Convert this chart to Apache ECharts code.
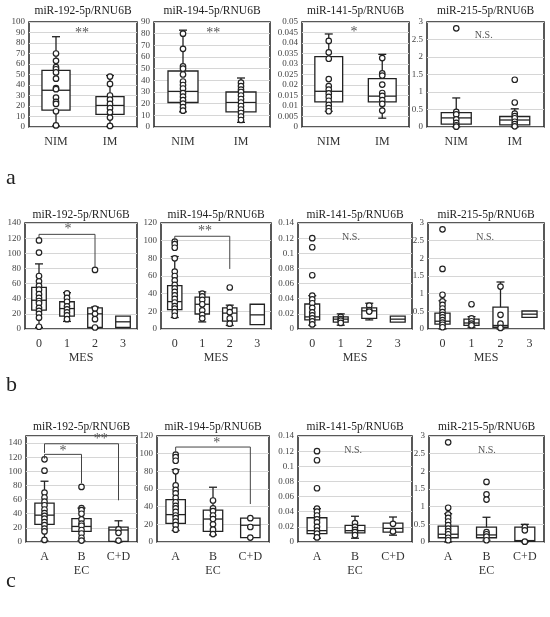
<!DOCTYPE html>
<html>
<head>
<meta charset="utf-8">
<script src="https://cdn.jsdelivr.net/npm/echarts@6/dist/echarts.min.js"></script>
<style>
  html, body { margin: 0; padding: 0; background: #fff; }
  #main { width: 550px; height: 617px; }
</style>
</head>
<body>
<div id="main"></div>
<script>
// categories
const catsIM = ['NIM', 'IM'];
const catsMES = ['0', '1', '2', '3'];
const catsEC = ['A', 'B', 'C+D'];
const markers = ['miR-192-5p/RNU6B', 'miR-194-5p/RNU6B', 'miR-141-5p/RNU6B', 'miR-215-5p/RNU6B'];

// y axis ranges per row: [max, interval]
const axisA = [[100, 10], [90, 10], [0.05, 0.005], [3, 0.5]];
const axisB = [[140, 20], [120, 20], [0.14, 0.02], [3, 0.5]];
const axisC = [[150, 20], [120, 20], [0.14, 0.02], [3, 0.5]];

// box stats per category: [min, q1, median, q3, max]
const boxA192 = [[1, 16, 35, 54, 86], [0.5, 12, 20.5, 29, 49]];
const boxA194 = [[13, 21, 30.5, 48, 83], [4, 13, 21, 30, 42]];
const boxA141 = [[0.0075, 0.012, 0.017, 0.0335, 0.0443], [0.0042, 0.012, 0.0147, 0.023, 0.0346]];
const boxA215 = [[0, 0.08, 0.26, 0.41, 0.83], [0, 0.06, 0.2, 0.3, 0.52]];

const boxB192 = [[2, 25, 38, 55, 86], [10, 17, 27, 36, 48], [1, 2, 20, 28, 29], [2, 2, 9.5, 17, 17]];
const boxB194 = [[13, 22, 31, 49, 82], [8, 17, 28, 36, 42], [4, 9, 18, 24, 27], [5, 5, 16, 28, 28]];
const boxB141 = [[0.005, 0.012, 0.016, 0.033, 0.044], [0.005, 0.009, 0.013, 0.016, 0.02], [0.012, 0.014, 0.024, 0.028, 0.034], [0.009, 0.009, 0.013, 0.017, 0.017]];
const boxB215 = [[0, 0.14, 0.22, 0.45, 0.8], [0.05, 0.1, 0.17, 0.28, 0.35], [0, 0.05, 0.1, 0.62, 1.33], [0.33, 0.33, 0.42, 0.51, 0.51]];

const boxC192 = [[2, 25, 38, 55, 86], [2, 15, 22, 33, 48], [0, 1, 17, 21, 30]];
const boxC194 = [[13, 21, 31, 48, 82], [8, 12, 26, 36, 62], [5, 5, 19, 27, 27]];
const boxC141 = [[0.005, 0.011, 0.015, 0.032, 0.044], [0.005, 0.012, 0.015, 0.022, 0.034], [0.009, 0.013, 0.018, 0.025, 0.033]];
const boxC215 = [[0, 0.12, 0.22, 0.45, 0.8], [0.05, 0.12, 0.2, 0.42, 0.7], [0, 0.02, 0.04, 0.42, 0.5]];

// individual samples per category (outliers included)
const ptsA192 = [[70, 63, 57, 55, 52, 46, 37, 36, 28, 24, 22, 15, 1.5], [48, 41, 30, 26, 22, 18, 14, 9, 1]];
const ptsA194 = [[80, 67, 52, 50, 45, 39, 36, 33, 29, 26, 23, 20, 17, 14], [38, 35, 32, 30, 27, 24, 21, 18, 15, 12, 9, 6]];
const ptsA141 = [[0.041, 0.0355, 0.0325, 0.0228, 0.0195, 0.0178, 0.016, 0.0143, 0.0125, 0.0105, 0.009, 0.0075],
                 [0.0328, 0.0255, 0.0245, 0.0202, 0.0162, 0.0148, 0.0128, 0.011, 0.0078]];
const ptsA215 = [[2.82, 0.43, 0.36, 0.22, 0.12, 0.05, 0.01], [1.35, 0.7, 0.38, 0.31, 0.25, 0.15, 0.08, 0.02]];

const ptsB192 = [[117, 101, 70, 63, 57, 52, 46, 41, 37, 34, 28, 24, 20, 15, 3], [47, 41, 36, 30, 26, 22, 18, 13], [78, 27, 20, 13, 2], []];
const ptsB194 = [[99, 96, 92, 80, 65, 60, 55, 50, 46, 42, 38, 34, 30, 26, 23, 19, 15], [40, 37, 33, 28, 21, 16, 12], [47, 24, 19, 12, 6], []];
const ptsB141 = [[0.12, 0.108, 0.071, 0.044, 0.039, 0.034, 0.028, 0.022, 0.018, 0.014, 0.01, 0.006], [0.016, 0.013, 0.011, 0.008], [0.031, 0.025, 0.023], []];
const ptsB215 = [[2.82, 1.7, 0.97, 0.78, 0.68, 0.58, 0.48, 0.4, 0.33, 0.25, 0.18, 0.12, 0.05], [0.7, 0.3, 0.22, 0.15, 0.1], [1.2, 0.4, 0.15, 0.03], []];

const ptsC192 = [[117, 101, 70, 63, 57, 52, 46, 41, 37, 33, 28, 24, 19, 15, 3], [78, 48, 45, 40, 32, 26, 23, 17, 12, 6, 2], [18, 13, 2]];
const ptsC194 = [[99, 96, 92, 80, 64, 59, 55, 50, 45, 41, 38, 34, 30, 27, 23, 19, 14], [47, 38, 35, 30, 26, 20, 14, 9], [27, 17, 5]];
const ptsC141 = [[0.12, 0.108, 0.071, 0.044, 0.04, 0.035, 0.03, 0.026, 0.02, 0.015, 0.011, 0.006], [0.025, 0.02, 0.016, 0.013, 0.009], [0.024, 0.014]];
const ptsC215 = [[2.82, 0.97, 0.78, 0.68, 0.58, 0.48, 0.38, 0.3, 0.22, 0.12, 0.05], [1.7, 1.35, 1.2, 0.28, 0.22, 0.15, 0.05], [0.42, 0.33, 0.01]];

// significance labels: text, category position, value
const sigA = [['**', 0.48, 89], ['**', 0.52, 80.5], ['*', 0.47, 0.045], ['N.S.', 0.47, 2.62]];
const sigB = [['*', 1.04, 132], ['**', 1.1, 111], ['N.S.', 1.36, 0.1215], ['N.S.', 1.47, 2.6]];
const sigC = [['*', 0.5, 129, '**', 1.52, 145], ['*', 1.1, 112], ['N.S.', 0.95, 0.1215], ['N.S.', 1.01, 2.6]];

// brackets: [fromCat, fromDrop, top, toCat, toDrop]
const brB192 = [[0, 120, 125, 2, 82]];
const brB194 = [[0, 100, 105, 2, 68]];
const brC192 = [[0, 118, 124, 1, 83], [0, 126, 139, 2, 59]];
const brC194 = [[0, 101, 107.5, 2, 43]];

const FONT = 'Liberation Serif';
const INK = '#222';

const panels = [
  { cats: catsIM, ax: axisA[0], box: boxA192, pts: ptsA192, sig: sigA[0], br: [] },
  { cats: catsIM, ax: axisA[1], box: boxA194, pts: ptsA194, sig: sigA[1], br: [] },
  { cats: catsIM, ax: axisA[2], box: boxA141, pts: ptsA141, sig: sigA[2], br: [] },
  { cats: catsIM, ax: axisA[3], box: boxA215, pts: ptsA215, sig: sigA[3], br: [] },
  { cats: catsMES, ax: axisB[0], box: boxB192, pts: ptsB192, sig: sigB[0], br: brB192, name: 'MES' },
  { cats: catsMES, ax: axisB[1], box: boxB194, pts: ptsB194, sig: sigB[1], br: brB194, name: 'MES' },
  { cats: catsMES, ax: axisB[2], box: boxB141, pts: ptsB141, sig: sigB[2], br: [], name: 'MES' },
  { cats: catsMES, ax: axisB[3], box: boxB215, pts: ptsB215, sig: sigB[3], br: [], name: 'MES' },
  { cats: catsEC, ax: axisC[0], box: boxC192, pts: ptsC192, sig: sigC[0], br: brC192, name: 'EC', hideMax: true },
  { cats: catsEC, ax: axisC[1], box: boxC194, pts: ptsC194, sig: sigC[1], br: brC194, name: 'EC' },
  { cats: catsEC, ax: axisC[2], box: boxC141, pts: ptsC141, sig: sigC[2], br: [], name: 'EC' },
  { cats: catsEC, ax: axisC[3], box: boxC215, pts: ptsC215, sig: sigC[3], br: [], name: 'EC' }
];

// plot rectangles [left, top, width, height]
const rects = [
  [29, 22, 108, 105], [154, 22, 116, 105], [302, 22, 107, 105], [427, 22, 117, 105],
  [25, 223, 112, 106], [161, 223, 110, 106], [298, 223, 114, 106], [428, 223, 116, 106],
  [26, 436, 111, 106], [157, 436, 112, 106], [298, 436, 114, 106], [429, 436, 115, 106]
];
const titleTop = [5, 209, 421];

function renderBox(params, api) {
  const x = api.value(0);
  const lo = api.coord([x, api.value(1)]);
  const q1 = api.coord([x, api.value(2)]);
  const md = api.coord([x, api.value(3)]);
  const q3 = api.coord([x, api.value(4)]);
  const hi = api.coord([x, api.value(5)]);
  const band = api.size([1, 0])[0];
  const bw = Math.min(band * 0.52, 30);
  const cap = 4;
  const cx = lo[0];
  const st = { stroke: INK, lineWidth: 1.3, fill: null };
  const kids = [
    { type: 'rect', shape: { x: cx - bw / 2, y: q3[1], width: bw, height: q1[1] - q3[1] },
      style: { stroke: INK, lineWidth: 1.3, fill: '#fff' } },
    { type: 'line', shape: { x1: cx - bw / 2, y1: md[1], x2: cx + bw / 2, y2: md[1] }, style: st }
  ];
  if (hi[1] < q3[1] - 0.5) {
    kids.push({ type: 'line', shape: { x1: cx, y1: q3[1], x2: cx, y2: hi[1] }, style: st });
    kids.push({ type: 'line', shape: { x1: cx - cap, y1: hi[1], x2: cx + cap, y2: hi[1] }, style: st });
  }
  if (lo[1] > q1[1] + 0.5) {
    kids.push({ type: 'line', shape: { x1: cx, y1: q1[1], x2: cx, y2: lo[1] }, style: st });
    kids.push({ type: 'line', shape: { x1: cx - cap, y1: lo[1], x2: cx + cap, y2: lo[1] }, style: st });
  }
  return { type: 'group', children: kids };
}

function renderBracket(params, api) {
  const a = api.coord([api.value(0), api.value(1)]);
  const b = api.coord([api.value(0), api.value(2)]);
  const c = api.coord([api.value(3), api.value(2)]);
  const d = api.coord([api.value(3), api.value(4)]);
  return { type: 'polyline', shape: { points: [a, b, c, d] }, style: { stroke: '#444', lineWidth: 1, fill: null } };
}

// position is a fractional category index, so offset from category 0 by band widths
function renderSig(labels, params, api) {
  const pos = api.value(1);
  const base = api.coord([0, api.value(2)]);
  const band = api.size([1, 0])[0];
  const txt = labels[params.dataIndex];
  const isStar = txt.indexOf('*') >= 0;
  return {
    type: 'text', x: base[0] + pos * band, y: base[1],
    style: { text: txt, fill: '#555', font: (isStar ? '14px ' : '10px ') + FONT, textAlign: 'center', textVerticalAlign: 'middle' }
  };
}

const grid = [], xAxis = [], yAxis = [], series = [], title = [];

panels.forEach((p, i) => {
  const r = rects[i];
  grid.push({ left: r[0], top: r[1], width: r[2], height: r[3], show: true, borderColor: INK, borderWidth: 1.5, containLabel: false });
  xAxis.push({
    gridIndex: i, type: 'category', data: p.cats, boundaryGap: true,
    axisLine: { show: false }, axisTick: { show: false },
    axisLabel: { fontFamily: FONT, fontSize: 12, color: '#333', margin: 9 },
    name: p.name || '', nameLocation: 'middle', nameGap: 23,
    nameTextStyle: { fontFamily: FONT, fontSize: 12, color: '#333', verticalAlign: 'top' }
  });
  yAxis.push({
    gridIndex: i, type: 'value', min: 0, max: p.ax[0], interval: p.ax[1],
    axisLine: { show: false }, axisTick: { show: false },
    axisLabel: { fontFamily: FONT, fontSize: 9, color: '#444', margin: 4, showMaxLabel: !p.hideMax },
    splitLine: { lineStyle: { color: '#d6d6d6', width: 1 } }
  });
  title.push({
    text: markers[i % 4], left: r[0] + r[2] / 2, top: titleTop[Math.floor(i / 4)], textAlign: 'center', padding: 0,
    textStyle: { fontFamily: FONT, fontSize: 11.5, fontWeight: 'normal', color: INK }
  });

  series.push({
    type: 'custom', xAxisIndex: i, yAxisIndex: i, z: 2, renderItem: renderBox,
    encode: { x: 0, y: [1, 2, 3, 4, 5] },
    data: p.box.map((b, k) => [k].concat(b))
  });

  const pts = [];
  p.pts.forEach((vals, k) => vals.forEach(v => pts.push([k, v])));
  series.push({
    type: 'scatter', xAxisIndex: i, yAxisIndex: i, z: 3, symbol: 'circle', symbolSize: 5.5,
    itemStyle: { color: '#fff', borderColor: INK, borderWidth: 1.2, opacity: 1 },
    data: pts
  });

  if (p.br.length) {
    series.push({
      type: 'custom', xAxisIndex: i, yAxisIndex: i, z: 4, renderItem: renderBracket,
      encode: { x: [0, 3], y: [1, 2, 4] }, data: p.br
    });
  }

  const labels = [], sigData = [];
  for (let k = 0; k < p.sig.length; k += 3) {
    labels.push(p.sig[k]);
    sigData.push([k / 3, p.sig[k + 1], p.sig[k + 2]]);
  }
  series.push({
    type: 'custom', xAxisIndex: i, yAxisIndex: i, z: 5,
    renderItem: (params, api) => renderSig(labels, params, api),
    encode: { y: 2 }, data: sigData
  });
});

// panel letters
[['a', 167], ['b', 374], ['c', 570]].forEach(l => {
  title.push({ text: l[0], left: 6, top: l[1], padding: 0, textStyle: { fontFamily: FONT, fontSize: 22, fontWeight: 'normal', color: INK } });
});

const chart = echarts.init(document.getElementById('main'));
chart.setOption({ animation: false, backgroundColor: '#fff', title, grid, xAxis, yAxis, series });
</script>
</body>
</html>
